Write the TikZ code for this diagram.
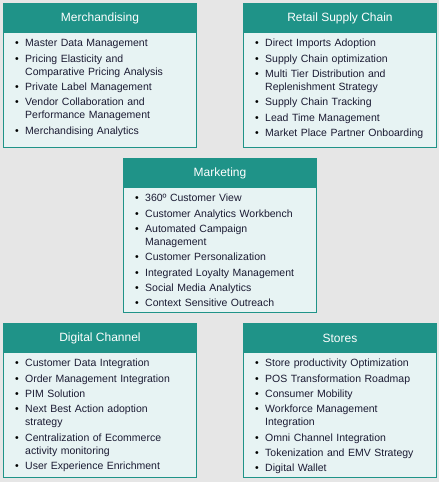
\documentclass[tikz,border=0pt]{standalone}
\usepackage{fontspec}
\setmainfont{Liberation Sans}
\usetikzlibrary{calc}

\definecolor{pagebg}{HTML}{E6E6E6}
\definecolor{teal1}{HTML}{1F9388}
\definecolor{panelfill}{HTML}{E7F3F3}
\definecolor{itemtext}{HTML}{1B1B33}

% one bulleted entry; continuation lines hang under the text
\newif\iffirstitm
\newcommand\itm[1]{\iffirstitm\global\firstitmfalse\else\par\fi
  \noindent\hangindent=10pt\hangafter=1%
  \makebox[10pt][l]{\textcolor{black}{•}}\strut#1}
\newcommand\nl{\newline\strut}

\tikzset{
  panelbody/.style={draw=teal1, line width=0.9pt, fill=panelfill,
    minimum width=193pt, anchor=north west, inner sep=0pt},
  panelhead/.style={draw=teal1, line width=0.9pt, fill=teal1,
    minimum width=193pt, minimum height=29pt, anchor=north west,
    inner sep=0pt, text=white, font=\fontsize{12}{14}\selectfont},
  itemlist/.style={anchor=north west, inner sep=0pt, text width=178pt,
    align=left, text=itemtext,
    font=\fontsize{10.5}{13}\selectfont\setlength\parskip{2.3pt}}
}

% name, left x, top y, height, title, entries
\newcommand\panel[6]{%
  \node[panelbody, minimum height=#4pt] (#1) at (#2,#3) {};
  \node[panelhead] (#1-head) at (#1.north west) {#5};
  \node[itemlist] (#1-list) at ($(#1.north west)+(12,34.6)$)
    {\global\firstitmtrue#6};
}

\begin{document}
\begin{tikzpicture}[x=1pt, y=-1pt]
  \fill[pagebg] (0,0) rectangle (439,482);
  \useasboundingbox (0,0) rectangle (439,482);

  \panel{merch}{3}{3}{144}{Merchandising}{%
    \itm{Master Data Management}
    \itm{Pricing Elasticity and\nl Comparative Pricing Analysis}
    \itm{Private Label Management}
    \itm{Vendor Collaboration and\nl Performance Management}
    \itm{Merchandising Analytics}}

  \panel{supply}{243}{3}{144}{Retail Supply Chain}{%
    \itm{Direct Imports Adoption}
    \itm{Supply Chain optimization}
    \itm{Multi Tier Distribution and\nl Replenishment Strategy}
    \itm{Supply Chain Tracking}
    \itm{Lead Time Management}
    \itm{Market Place Partner Onboarding}}

  \panel{marketing}{123}{158}{154}{Marketing}{%
    \itm{360º Customer View}
    \itm{Customer Analytics Workbench}
    \itm{Automated Campaign\nl Management}
    \itm{Customer Personalization}
    \itm{Integrated Loyalty Management}
    \itm{Social Media Analytics}
    \itm{Context Sensitive Outreach}}

  \panel{digital}{3}{323}{154}{Digital Channel}{%
    \itm{Customer Data Integration}
    \itm{Order Management Integration}
    \itm{PIM Solution}
    \itm{Next Best Action adoption\nl strategy}
    \itm{Centralization of Ecommerce\nl activity monitoring}
    \itm{User Experience Enrichment}}

  \panel{stores}{243}{323}{154}{Stores}{%
    \itm{Store productivity Optimization}
    \itm{POS Transformation Roadmap}
    \itm{Consumer Mobility}
    \itm{Workforce Management\nl Integration}
    \itm{Omni Channel Integration}
    \itm{Tokenization and EMV Strategy}
    \itm{Digital Wallet}}
\end{tikzpicture}
\end{document}
